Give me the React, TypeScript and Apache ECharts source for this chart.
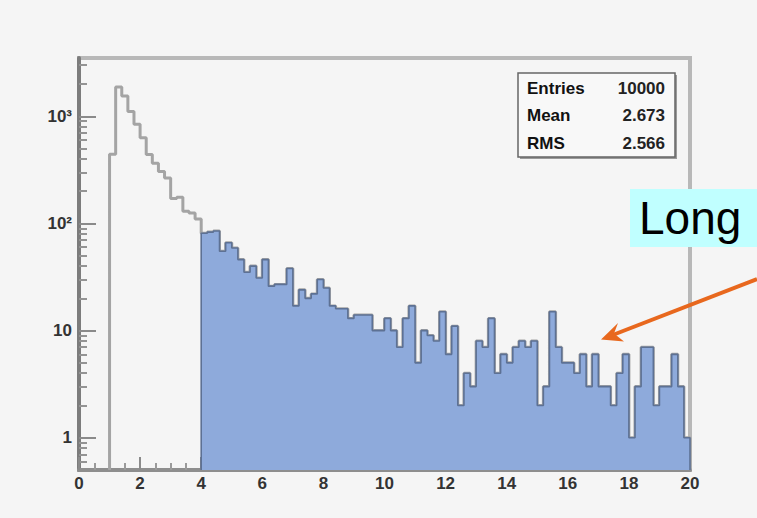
import React, { useEffect, useRef } from 'react';
import * as echarts from 'echarts';

// ---- data ----
const BIN_WIDTH = 0.2;
const LOW_START = 1.0;
const LOW_COUNTS = [443, 1880, 1550, 1110, 845, 630, 440, 365, 305, 265, 171, 176, 130, 125, 110];
const TAIL_START = 4.0;
const TAIL_COUNTS = [
  81, 83, 85, 55, 66, 59, 46, 35, 40, 31,
  46, 26, 27, 27, 38, 17, 24, 20, 22, 30,
  25, 17, 16, 16, 13, 14, 14, 14, 10, 10,
  13, 10, 7, 13, 17, 5, 10, 9, 8, 15,
  6, 11, 2, 4, 3, 8, 7, 13, 4, 6,
  5, 7, 8, 7, 8, 2, 3, 15, 7, 5,
  5, 4, 6, 3, 6, 3, 3, 2, 4, 6,
  1, 3, 7, 7, 2, 3, 3, 6, 3, 1,
];
const X_MIN = 0;
const X_MAX = 20;
const X_INTERVAL = 2;
const Y_MIN = 0.5;
const Y_MAX = 3500;
const Y_MAJOR = [1, 10, 100, 1000];
const Y_LABELS = ['1', '10', '10²', '10³'];
const Y_MINOR = [
  0.6, 0.7, 0.8, 0.9,
  2, 3, 4, 5, 6, 7, 8, 9,
  20, 30, 40, 50, 60, 70, 80, 90,
  200, 300, 400, 500, 600, 700, 800, 900,
  2000, 3000,
];
const STAT_NAMES = ['Entries', 'Mean', 'RMS'];
const STAT_VALUES = ['10000', '2.673', '2.566'];
const NOTE_TEXT = 'Long';

const FONT = '"Liberation Sans", Arial, Helvetica, sans-serif';

function histPoints(start: number, counts: number[]): number[][] {
  const pts: number[][] = [[start, Y_MIN]];
  counts.forEach((c, i) => pts.push([+(start + i * BIN_WIDTH).toFixed(4), c]));
  const end = +(start + counts.length * BIN_WIDTH).toFixed(4);
  pts.push([end, counts[counts.length - 1]]);
  pts.push([end, Y_MIN]);
  return pts;
}

export default function App() {
  const ref = useRef<HTMLDivElement>(null);
  useEffect(() => {
    if (!ref.current) return;
    const chart = echarts.init(ref.current, null, { renderer: 'svg' });
    const allCounts = LOW_COUNTS.concat(TAIL_COUNTS);
    const fullData = histPoints(LOW_START, allCounts);
    const tailData = histPoints(TAIL_START, TAIL_COUNTS);

    const rowsY = [88, 115, 143];
    const statTexts: any[] = [];
    STAT_NAMES.forEach((n, i) => {
      statTexts.push({
        type: 'text', x: 527, y: rowsY[i], z: 12,
        style: { text: n, fill: '#111', font: `bold 17px ${FONT}`, align: 'left', verticalAlign: 'middle', textAlign: 'left', textVerticalAlign: 'middle' },
      });
      statTexts.push({
        type: 'text', x: 665, y: rowsY[i], z: 12,
        style: { text: STAT_VALUES[i], fill: '#222', font: `bold 17px ${FONT}`, align: 'right', verticalAlign: 'middle', textAlign: 'right', textVerticalAlign: 'middle' },
      });
    });

    const option: any = {
      animation: false,
      backgroundColor: '#f5f5f5',
      grid: {
        left: 79, right: 67, top: 58, bottom: 48,
        show: true, borderColor: '#b8b8b8', borderWidth: 4, backgroundColor: 'transparent',
      },
      xAxis: [{
        type: 'value', min: X_MIN, max: X_MAX, interval: X_INTERVAL, position: 'bottom',
        axisLine: { show: true, onZero: false, lineStyle: { color: '#8e8e8e', width: 4 } },
        axisTick: { show: true, inside: true, length: 13, lineStyle: { color: '#8a8a8a', width: 2 } },
        minorTick: { show: true, splitNumber: 4, length: 7, lineStyle: { color: '#9a9a9a', width: 2 } },
        axisLabel: { fontSize: 17, fontWeight: 'bold', color: '#333', margin: 5, fontFamily: FONT },
        splitLine: { show: false },
      }],
      yAxis: [{
        type: 'log', logBase: 10, min: Y_MIN, max: Y_MAX, position: 'left',
        axisLine: { show: true, onZero: false, lineStyle: { color: '#7c7c7c', width: 4 } },
        axisTick: { show: true, inside: true, length: 17, customValues: Y_MAJOR, lineStyle: { color: '#8a8a8a', width: 2 } },
        axisLabel: {
          show: true, customValues: Y_MAJOR, fontSize: 17, fontWeight: 'bold', color: '#333', margin: 7, fontFamily: FONT,
          formatter: (v: number) => {
            const idx = Y_MAJOR.findIndex((m) => Math.abs(m - v) / m < 1e-6);
            return idx >= 0 ? Y_LABELS[idx] : '';
          },
        },
        splitLine: { show: false },
      }, {
        type: 'log', logBase: 10, min: Y_MIN, max: Y_MAX, position: 'left',
        axisLine: { show: false },
        axisTick: { show: true, inside: true, length: 8, customValues: Y_MINOR, lineStyle: { color: '#939393', width: 2 } },
        axisLabel: { show: false },
        splitLine: { show: false },
      }],
      series: [
        {
          type: 'line', name: 'all', data: fullData, step: 'end', symbol: 'none', z: 2,
          xAxisIndex: 0, yAxisIndex: 0,
          lineStyle: { color: '#a4a4a4', width: 3 },
        },
        {
          type: 'line', name: 'tail', data: tailData, step: 'end', symbol: 'none', z: 3,
          xAxisIndex: 0, yAxisIndex: 0,
          lineStyle: { color: '#5d7194', width: 1.6 },
          areaStyle: { color: '#8eaadb', opacity: 1, origin: 'start' },
        },
      ],
      graphic: [
        { type: 'rect', z: 10, shape: { x: 520, y: 75, width: 157, height: 84 }, style: { fill: '#9a9a9a' } },
        { type: 'rect', z: 11, shape: { x: 518, y: 73, width: 157, height: 84 }, style: { fill: '#f8f8f8', stroke: '#666', lineWidth: 1.5 } },
        ...statTexts,
        { type: 'rect', z: 20, shape: { x: 630, y: 189, width: 127, height: 58 }, style: { fill: '#c0ffff' } },
        {
          type: 'text', z: 21, x: 639, y: 218,
          style: { text: NOTE_TEXT, fill: '#000', font: `46px ${FONT}`, align: 'left', verticalAlign: 'middle', textAlign: 'left', textVerticalAlign: 'middle' },
        },
        { type: 'line', z: 22, shape: { x1: 757, y1: 279, x2: 614, y2: 334.5 }, style: { stroke: '#e8681e', lineWidth: 4 } },
        { type: 'polygon', z: 22, shape: { points: [[601, 339.5], [618, 323], [614, 333.5], [624, 341.5]] }, style: { fill: '#e8681e' } },
      ],
    };
    chart.setOption(option);
    return () => chart.dispose();
  }, []);
  return <div ref={ref} style={{ position: 'absolute', left: 0, top: 0, width: 757, height: 518 }} />;
}
